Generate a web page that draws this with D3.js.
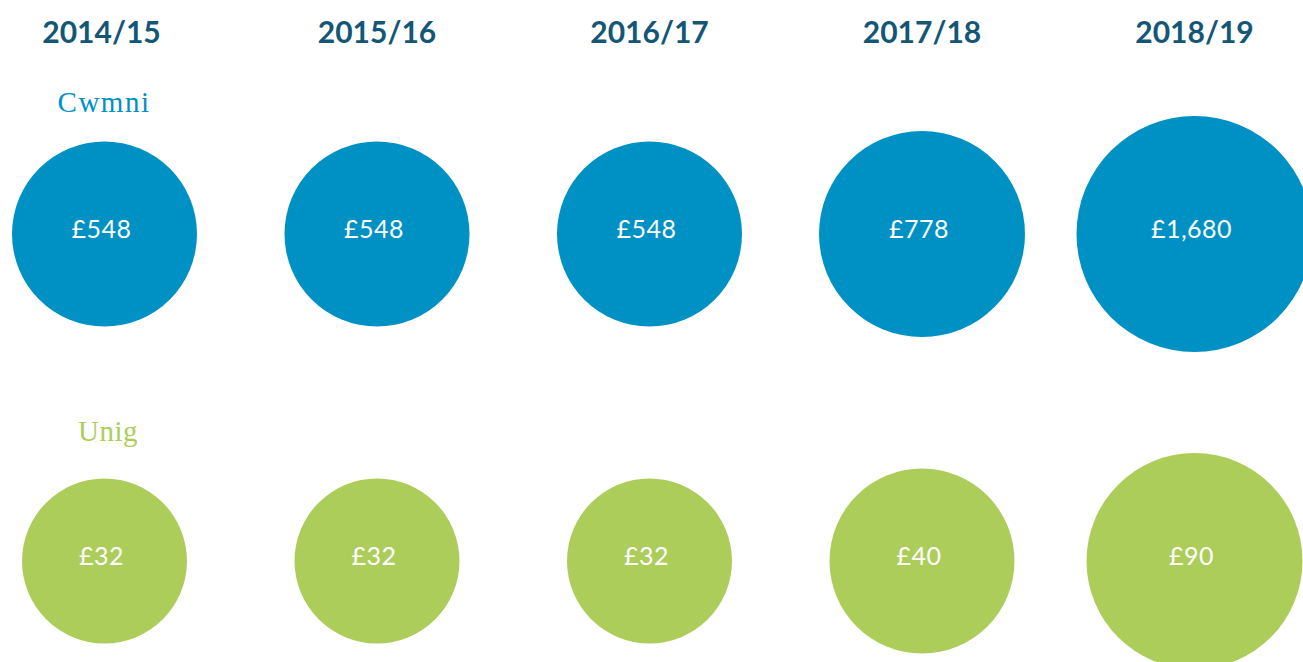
<!DOCTYPE html>
<html>
<head>
<meta charset="utf-8">
<script src="https://cdn.jsdelivr.net/npm/d3@7"></script>
<style>
  html, body { margin: 0; padding: 0; background: #fff; overflow: hidden; }
  svg { display: block; }
</style>
</head>
<body>
<svg id="chart" width="1303" height="662"></svg>
<script>
const years = ["2014/15", "2015/16", "2016/17", "2017/18", "2018/19"];
const seriesNames = ["Cwmni", "Unig"];
const cwmniValues = [548, 548, 548, 778, 1680];
const unigValues = [32, 32, 32, 40, 90];

const svg = d3.select("#chart");

const x = d3.scalePoint().domain(years).range([104.5, 1194.5]);

const rows = [
  { name: seriesNames[0], values: cwmniValues, color: "#0091c4", cy: 234, labelY: 112, labelX: 104, spacing: 1.5, rRange: [92.5, 103, 118] },
  { name: seriesNames[1], values: unigValues, color: "#adcd5b", cy: 561, labelY: 441, labelX: 108, spacing: 0.5, rRange: [82.5, 92.5, 108] }
];

// Year headers
svg.append("g").selectAll("text").data(years).join("text")
  .attr("x", d => x(d) - (d === years[0] ? 3 : 0))
  .attr("y", 43)
  .attr("text-anchor", "middle")
  .style("font-family", "Lato, 'Open Sans', sans-serif")
  .style("font-weight", 700)
  .style("font-size", "30px")
  .style("fill", "#135676")
  .text(d => d);

const fmt = d3.format(",");

rows.forEach(row => {
  const dom = Array.from(new Set(row.values)).sort((a, b) => a - b);
  const r = d3.scaleLinear().domain(dom).range(row.rRange);

  svg.append("text")
    .attr("x", row.labelX)
    .attr("y", row.labelY)
    .attr("text-anchor", "middle")
    .style("font-family", "'Liberation Serif', 'DejaVu Serif', serif")
    .style("font-size", "29px")
    .style("letter-spacing", row.spacing + "px")
    .style("fill", row.color)
    .text(row.name);

  const g = svg.append("g");
  const data = years.map((y, i) => ({ year: y, value: row.values[i] }));

  g.selectAll("circle").data(data).join("circle")
    .attr("cx", d => x(d.year))
    .attr("cy", row.cy)
    .attr("r", d => r(d.value))
    .attr("fill", row.color);

  g.selectAll("text").data(data).join("text")
    .attr("x", d => x(d.year) - 3)
    .attr("y", row.cy + 4)
    .attr("text-anchor", "middle")
    .style("font-family", "Lato, 'Open Sans', sans-serif")
    .style("font-weight", 400)
    .style("font-size", "25px")
    .style("letter-spacing", "0.5px")
    .style("fill", "#ffffff")
    .text(d => "£" + fmt(d.value));
});
</script>
</body>
</html>
